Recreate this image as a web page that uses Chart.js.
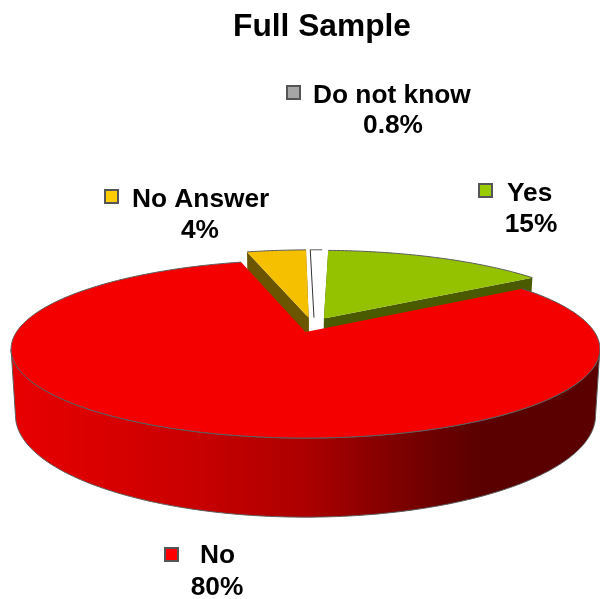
<!DOCTYPE html>
<html>
<head>
<meta charset="utf-8">
<script src="https://cdn.jsdelivr.net/npm/chart.js@4"></script>
<style>
html, body { margin: 0; padding: 0; background: #fff; }
#wrap { width: 600px; height: 599px; }
</style>
</head>
<body>
<div id="wrap"><canvas id="pie" width="600" height="599"></canvas></div>
<script>
// Values
var titleText = "Full Sample";
var categories = ["Yes", "No", "No Answer", "Do not know"];
var shares = [15, 80, 4, 0.8];
var shareLabels = ["15%", "80%", "4%", "0.8%"];
var sliceColors = ["#94c100", "#f50000", "#f5c000", "#ffffff"];
var wallColors = ["#4a5a00", "#a00000", "#6b5500", "#ffffff"];
var swatchColors = ["#99cc00", "#ff0000", "#ffcc00", "#a6a6a6"];

// 3D look of the pie
var tilt = { ry: 85.8, q: 0.191, wall: 64, shrink: 0.985 };
var nudgeX = [-7, 0, 10, 8];
var drawOrder = [3, 0, 2, 1];

// legend text spots: swatch left/top, first line left, first baseline, second line centre, second baseline
var labelSpots = [
    { sx: 479, sy: 184, tx: 507, ty: 201, cx: 531, cy: 232 },
    { sx: 165, sy: 548, tx: 200, ty: 563, cx: 217, cy: 595 },
    { sx: 105, sy: 190, tx: 132, ty: 207, cx: 200, cy: 238 },
    { sx: 287, sy: 86, tx: 313, ty: 103, cx: 393, cy: 133 }
];

function project(arc, index, a, r, down) {
    var off = arc.options.offset / arc.outerRadius;
    var mid = (arc.startAngle + arc.endAngle) / 2 + Math.PI / 2;
    var u = r * Math.sin(a) + off * Math.sin(mid);
    var v = r * Math.cos(a) + off * Math.cos(mid);
    var w = 1 + tilt.q * v;
    var x = arc.outerRadius * u / w;
    var y = -tilt.ry * v / w;
    if (down) {
        x = x * tilt.shrink;
        y = y + tilt.wall / w;
    }
    return { x: arc.x + x + nudgeX[index], y: arc.y + y };
}

function rimPoints(arc, index, down) {
    var start = arc.startAngle + Math.PI / 2;
    var end = arc.endAngle + Math.PI / 2;
    var steps = Math.max(2, Math.ceil((end - start) * 180 / Math.PI));
    var pts = [];
    for (var i = 0; i <= steps; i++) {
        pts.push(project(arc, index, start + (end - start) * i / steps, 1, down));
    }
    return pts;
}

function tracePoints(ctx, pts, keep) {
    if (!keep) ctx.beginPath();
    pts.forEach(function (p, i) {
        if (i === 0 && !keep) ctx.moveTo(p.x, p.y);
        else ctx.lineTo(p.x, p.y);
    });
}

function fillQuad(ctx, a, b, c, d, color) {
    ctx.beginPath();
    ctx.moveTo(a.x, a.y);
    ctx.lineTo(b.x, b.y);
    ctx.lineTo(c.x, c.y);
    ctx.lineTo(d.x, d.y);
    ctx.closePath();
    ctx.fillStyle = color;
    ctx.fill();
}

// only the part of the rim between the far right and far left points can be seen
function frontRange(top) {
    var right = 0, left = 0;
    top.forEach(function (p, i) {
        if (p.x > top[right].x) right = i;
        if (p.x < top[left].x) left = i;
    });
    return [right, left];
}

var pie3d = {
    id: "pie3d",
    beforeDatasetDraw: function (chart) {
        var ctx = chart.ctx;
        var arcs = chart.getDatasetMeta(0).data;
        ctx.save();
        ctx.lineJoin = "round";
        ctx.lineWidth = 1;
        drawOrder.forEach(function (index) {
            var arc = arcs[index];
            var top = rimPoints(arc, index, false);
            var bottom = rimPoints(arc, index, true);
            var apexTop = project(arc, index, 0, 0, false);
            var apexBottom = project(arc, index, 0, 0, true);

            if (index === 0 || index === 2) {
                // side walls of the pulled out slices
                fillQuad(ctx, apexTop, top[0], bottom[0], apexBottom, wallColors[index]);
                fillQuad(ctx, apexTop, top[top.length - 1], bottom[bottom.length - 1], apexBottom, wallColors[index]);
            }

            if (index === 1) {
                // outer wall, dark towards the right
                var range = frontRange(top);
                var wall = ctx.createLinearGradient(11, 0, 600, 0);
                wall.addColorStop(0, "#e80000");
                wall.addColorStop(0.32, "#c80000");
                wall.addColorStop(0.5, "#ac0000");
                wall.addColorStop(0.72, "#6c0000");
                wall.addColorStop(0.8, "#5a0000");
                wall.addColorStop(1, "#5a0000");
                var topPart = top.slice(range[0], range[1] + 1);
                var bottomPart = bottom.slice(range[0], range[1] + 1);
                tracePoints(ctx, topPart);
                tracePoints(ctx, bottomPart.slice().reverse(), true);
                ctx.closePath();
                ctx.fillStyle = wall;
                ctx.fill();
                ctx.strokeStyle = "#5c5c5c";
                ctx.stroke();
            }

            // top face
            ctx.beginPath();
            ctx.moveTo(apexTop.x, apexTop.y);
            tracePoints(ctx, top, true);
            ctx.closePath();
            ctx.fillStyle = sliceColors[index];
            ctx.fill();
            ctx.strokeStyle = "#5c5c5c";
            tracePoints(ctx, top);
            ctx.stroke();
            if (index === 3) {
                ctx.beginPath();
                ctx.moveTo(apexTop.x, apexTop.y);
                ctx.lineTo(top[0].x, top[0].y);
                ctx.strokeStyle = "#333333";
                ctx.stroke();
            }
        });
        ctx.restore();
        return false;
    },
    afterDraw: function (chart) {
        var ctx = chart.ctx;
        ctx.save();
        ctx.fillStyle = "#000000";
        ctx.textBaseline = "alphabetic";
        ctx.textAlign = "center";
        ctx.font = "bold 31.7px 'Liberation Sans'";
        ctx.fillText(titleText, 322, 36);
        ctx.font = "bold 26.3px 'Liberation Sans'";
        categories.forEach(function (name, i) {
            var spot = labelSpots[i];
            ctx.fillStyle = swatchColors[i];
            ctx.fillRect(spot.sx, spot.sy, 13, 13);
            ctx.strokeStyle = "#555555";
            ctx.lineWidth = 2;
            ctx.strokeRect(spot.sx, spot.sy, 13, 13);
            ctx.fillStyle = "#000000";
            ctx.textAlign = "left";
            ctx.fillText(name, spot.tx, spot.ty);
            ctx.textAlign = "center";
            ctx.fillText(shareLabels[i], spot.cx, spot.cy);
        });
        ctx.restore();
    }
};

new Chart(document.getElementById("pie"), {
    type: "pie",
    data: {
        labels: categories,
        datasets: [{
            data: shares,
            backgroundColor: sliceColors,
            offset: [54, 0, 50, 50]
        }]
    },
    options: {
        responsive: false,
        animation: false,
        radius: 289,
        rotation: 2,
        events: [],
        layout: { padding: { left: 11, top: 65 } },
        plugins: {
            legend: { display: false },
            title: { display: false },
            tooltip: { enabled: false }
        }
    },
    plugins: [pie3d]
});
</script>
</body>
</html>
